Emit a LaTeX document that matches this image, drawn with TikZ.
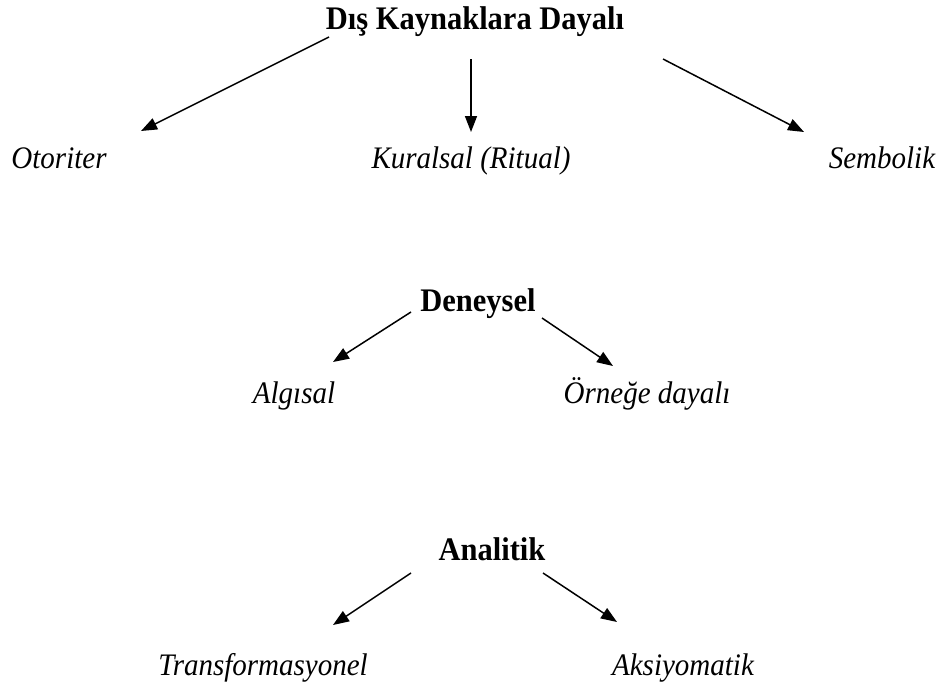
\documentclass[tikz,border=0pt]{standalone}
\usepackage{fontspec}
\usepackage{graphicx}
\setmainfont{Liberation Serif}
\usetikzlibrary{arrows.meta}
\newcommand{\tallbox}[1]{\scalebox{1}[1.08]{#1}}
\begin{document}
\begin{tikzpicture}[x=1pt,y=-1pt,
  head/.style={font=\fontsize{30.5}{34}\selectfont\bfseries, inner sep=0pt, anchor=base},
  leaf/.style={font=\fontsize{29}{32}\selectfont\itshape, inner sep=0pt, anchor=base},
  arr/.style={line width=1.5pt, -{Triangle[length=16pt,width=12pt]}}]
\useasboundingbox[fill=white] (0,0) rectangle (939,688);
% group 1
\node[head] (dis) at (475,29) {\tallbox{Dış Kaynaklara Dayalı}};
\node[leaf] (oto) at (59,168) {\tallbox{Otoriter}};
\node[leaf] (kur) at (471,168) {\tallbox{Kuralsal (Ritual)}};
\node[leaf] (sem) at (882,168) {\tallbox{Sembolik}};
\coordinate (d1) at (329,37);
\coordinate (d2) at (471,59);
\coordinate (d3) at (663,59);
\coordinate (o1) at (141,131);
\coordinate (k1) at (471,132);
\coordinate (s1) at (804,132);
\draw[arr] (d1) -- (o1);
\draw[arr] (d2) -- (k1);
\draw[arr] (d3) -- (s1);
% group 2
\node[head] (den) at (478,311) {\tallbox{Deneysel}};
\node[leaf] (alg) at (294,403) {\tallbox{Algısal}};
\node[leaf] (orn) at (647,403) {\tallbox{Örneğe dayalı}};
\coordinate (e1) at (411,312);
\coordinate (e2) at (542,318);
\coordinate (a1) at (333,362);
\coordinate (r1) at (613,366);
\draw[arr] (e1) -- (a1);
\draw[arr] (e2) -- (r1);
% group 3
\node[head] (ana) at (492,560) {\tallbox{Analitik}};
\node[leaf] (tra) at (263,675) {\tallbox{Transformasyonel}};
\node[leaf] (aks) at (683,675) {\tallbox{Aksiyomatik}};
\coordinate (n1) at (411,573);
\coordinate (n2) at (543,573);
\coordinate (t1) at (333,625);
\coordinate (x1) at (617,622);
\draw[arr] (n1) -- (t1);
\draw[arr] (n2) -- (x1);
\end{tikzpicture}
\end{document}
